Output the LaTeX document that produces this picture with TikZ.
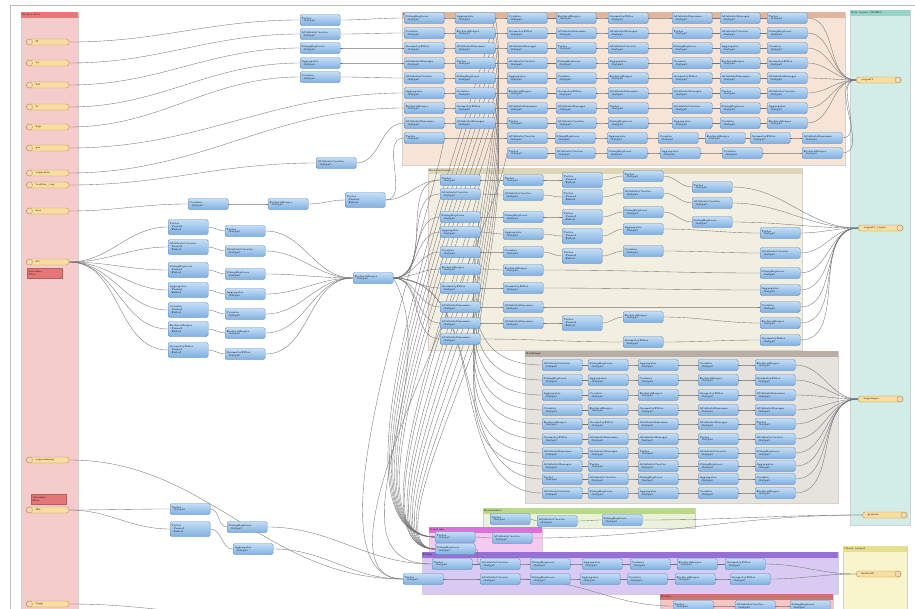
\documentclass[tikz,border=0pt]{standalone}
\usepackage{xcolor}
\usepackage{tikz}
\usetikzlibrary{positioning, backgrounds}
\definecolor{xfFill}{RGB}{196,222,246}
\definecolor{xfTop}{RGB}{128,176,226}
\definecolor{xfLine}{RGB}{90,134,186}
\definecolor{ftFill}{RGB}{248,222,160}
\definecolor{ftLine}{RGB}{190,150,80}
\definecolor{srcBg}{RGB}{244,204,204}
\definecolor{srcHd}{RGB}{232,120,120}
\definecolor{peachBg}{RGB}{246,228,214}
\definecolor{peachHd}{RGB}{224,182,158}
\definecolor{tealBg}{RGB}{210,236,232}
\definecolor{tealHd}{RGB}{150,212,202}
\definecolor{beigeBg}{RGB}{243,239,224}
\definecolor{beigeHd}{RGB}{222,214,184}
\definecolor{greyBg}{RGB}{230,226,222}
\definecolor{greyHd}{RGB}{184,174,166}
\definecolor{greenBg}{RGB}{234,242,218}
\definecolor{greenHd}{RGB}{186,216,140}
\definecolor{magBg}{RGB}{244,202,240}
\definecolor{magHd}{RGB}{222,112,222}
\definecolor{purpBg}{RGB}{216,202,242}
\definecolor{purpHd}{RGB}{150,112,212}
\definecolor{yelBg}{RGB}{248,244,204}
\definecolor{yelHd}{RGB}{230,224,140}
\definecolor{redBg}{RGB}{244,198,198}
\definecolor{redHd}{RGB}{212,112,112}
\definecolor{noteRed}{RGB}{228,118,118}
\tikzstyle{link} = [draw=black!55, line width=0.35pt]
\pgfdeclarelayer{bk}
\pgfdeclarelayer{lk}
\pgfsetlayers{bk,lk,main}

\newcommand{\xflabel}[1]{\ifcase#1 AttributeManager\or Tester\or AttributeCreator\or StringReplacer\or Aggregator\or Counter\or FeatureMerger\or GeometryFilter\else AttributeRenamer\fi}
\newcommand{\xfn}[4]{\node[xf] (#1) at (#2,#3) {\xflabel{#4}\\[-0.3pt]\hspace*{2pt}Output};}
\newcommand{\bmk}[8]{%
  \node[bmark, fill=#6, minimum width=#4, minimum height=#5] (#1) at (#2,#3) {};
  \node[bhead, fill=#7, minimum width=#4] (#1-hd) at (#1.north west) {};
  \node[btitle] (#1-tt) at (#1-hd.west) {#8};}

\begin{document}
\begin{tikzpicture}[x=1pt, y=-1pt,
  xf/.style={draw=xfLine, top color=xfFill, bottom color=xfTop, rounded corners=1.5pt, line width=0.3pt, anchor=west, minimum width=40pt, minimum height=11pt, text width=37pt, inner sep=0.8pt, align=left, font=\fontsize{2.6}{3}\selectfont},
  xft/.style={xf, minimum height=15pt},
  feat/.style={draw=ftLine, fill=ftFill, rounded corners=3pt, line width=0.4pt, anchor=west, minimum width=43pt, minimum height=6pt, text width=38pt, inner sep=0.6pt, align=left, font=\fontsize{2.6}{3}\selectfont},
  wrt/.style={feat, minimum width=45pt},
  note/.style={fill=noteRed, draw=noteRed!80!black, line width=0.3pt, anchor=north west, minimum width=35pt, minimum height=10pt, text width=32pt, inner sep=0.8pt, align=left, font=\fontsize{2.4}{2.8}\selectfont},
  bmark/.style={anchor=north west, inner sep=0pt, draw=black!18, line width=0.3pt},
  bhead/.style={anchor=north west, inner sep=0pt, minimum height=5.5pt},
  btitle/.style={anchor=west, inner sep=1pt, font=\fontsize{2.6}{3}\selectfont}
]
\useasboundingbox (0,0) rectangle (915,608);
\begin{pgfonlayer}{bk}
\fill[white] (0,0) rectangle (915,608);
\draw[black!25, line width=0.8pt] (10,620) -- (10,5) -- (930,5);
% Bookmarks
\bmk{bkSrc}{21}{12}{57}{600}{srcBg}{srcHd}{Source data}
\bmk{bkTop}{402}{12}{443}{153}{peachBg}{peachHd}{Layers}
\bmk{bkOut}{850}{10}{60}{515}{tealBg}{tealHd}{New layers (GPKG)}
\bmk{bkMid}{428}{168}{374}{182}{beigeBg}{beigeHd}{Road network}
\bmk{bkGry}{525}{351}{313}{152}{greyBg}{greyHd}{Buildings}
\bmk{bkGrn}{483}{508}{212}{20}{greenBg}{greenHd}{Boundaries}
\bmk{bkMag}{429}{527}{113}{27}{magBg}{magHd}{Land use}
\bmk{bkPur}{422}{552}{416}{42}{purpBg}{purpHd}{Paths}
\bmk{bkYel}{843}{546}{64}{70}{yelBg}{yelHd}{Check output}
\bmk{bkRed}{660}{594}{173}{25}{redBg}{redHd}{Points}
\end{pgfonlayer}

% Source features
\foreach \y/\t [count=\i] in {42/ff, 63/ny, 85/kvl, 107/lf, 127/hyp, 148/gar, 173/vegsenter, 185/traktor\_veg, 211/bru, 262/sti, 460/avgrensning, 510/fkb, 604/bygg} {
  \node[feat] (in\i) at (26,\y) {\hspace*{7pt}\t};
  \draw[ftLine, fill=ftFill!70!brown!60, line width=0.4pt] ([xshift=3.5pt]in\i.west) circle (3pt);
}
\node[note] (nt1) at (27,268) {Attribute\\ filter};
\node[note] (nt2) at (31,494) {Attribute\\ filter};

% Writers
\node[wrt] (out1) at (856,80) {\hspace*{2pt}vegnett};
\node[wrt] (out2) at (858,228) {\hspace*{2pt}vegnett\_linjer};
\node[wrt] (out3) at (858,399) {\hspace*{2pt}bygninger};
\node[wrt] (out4) at (862,515) {\hspace*{2pt}grenser};
\node[wrt] (out5) at (856,574) {\hspace*{2pt}kontroll};
\foreach \o in {out1,out2,out3,out4,out5}
  {\draw[ftLine, fill=ftFill!70!brown!60, line width=0.4pt] ([xshift=-3.5pt]\o.east) circle (3pt);}

% Left transformers
\foreach \y [count=\i] in {20,34,48,63,77} {\xfn{pre\i}{300}{\y}{\i}}
\xfn{pre6}{316}{163}{2}
\xfn{pre7}{188}{204}{5}
\xfn{pre8}{268}{204}{6}
\node[xft] (pre9) at (345,200) {Tester\\\hspace*{2pt}Passed\\\hspace*{2pt}Failed};
\foreach \y [count=\i] in {227,247,270,290,310,329,350} {
  \node[xft] (fa\i) at (168,\y) {\xflabel{\i}\\\hspace*{2pt}Passed\\\hspace*{2pt}Failed};
  \xfn{fb\i}{225}{\y+4}{\i}
}
\xfn{mrg}{353}{278}{6}

% Layers bookmark
\foreach \x [count=\c] in {404,455,507,556,608,672,720,767} {
  \foreach \r in {1,...,8} {
    \pgfmathtruncatemacro\y{3+15*\r}
    \pgfmathtruncatemacro\k{mod(\c+2*\r,9)}
    \xfn{tp-\c-\r}{\x}{\y}{\k}
  }
}
\foreach \x [count=\c] in {404,507,555,607,658,705,750,802} {\xfn{tq-\c}{\x}{138}{\c}}
\foreach \x [count=\c] in {507,555,607,660,722,802} {\xfn{tr-\c}{\x}{153}{\c}}

% Road network bookmark
\foreach \y [count=\i] in {180,194,217,232,252,269,288,307,323,339} {\xfn{ba\i}{440}{\y}{\i}}
\foreach \y [count=\i] in {180,195,217,234,252,270,288,307,323} {\xfn{bb\i}{503}{\y}{\i}}
\foreach \y [count=\i] in {180,197,217,236,256,323}
  {\node[xft] (bc\i) at (562,\y) {Tester\\\hspace*{2pt}Passed\\\hspace*{2pt}Failed};}
\foreach \y [count=\i] in {176,193,212,229,251,317,342} {\xfn{bd\i}{623}{\y}{\i}}
\foreach \y [count=\i] in {187,203,222} {\xfn{be\i}{692}{\y}{\i}}
\foreach \y [count=\i] in {233,253,273,290,307,323,340} {\xfn{bf\i}{760}{\y}{\i}}

% Buildings bookmark
\foreach \x [count=\c] in {542,588,638,698,755} {
  \foreach \y [count=\r] in {365,380,395,410,424,439,453,466,479,493} {
    \pgfmathtruncatemacro\k{mod(\c+\r,9)}
    \xfn{gy-\c-\r}{\x}{\y}{\k}
  }
}

% Small bookmarks
\foreach \x/\y [count=\i] in {490/519, 537/521, 602/520} {\xfn{gn\i}{\x}{\y}{\i}}
\foreach \x/\y [count=\i] in {435/537, 492/538, 435/549} {\xfn{mg\i}{\x}{\y}{\i}}
\foreach \x [count=\i] in {432,480,530,582,630,677,725} {\xfn{pa\i}{\x}{564}{\i}}
\foreach \x [count=\i] in {403,480,530,580,627,675,730} {\xfn{pb\i}{\x}{579}{\i}}
\foreach \x [count=\i] in {673,735,790} {\xfn{rd\i}{\x}{606}{\i}}
\xfn{bl1}{170}{509}{1}
\node[xft] (bl2) at (170,529) {Tester\\\hspace*{2pt}Passed\\\hspace*{2pt}Failed};
\xfn{bl3}{227}{527}{3}
\xfn{bl4}{233}{549}{4}
\coordinate (offB) at (260,616);

\begin{pgfonlayer}{lk}
% Connectors left
\foreach \i in {1,...,5} {
  \draw[link] (in\i.east) to[out=0,in=180] (pre\i.west);
  \draw[link] (pre\i.east) to[out=0,in=180] (tp-1-\i.west);
}
\draw[link] (in6.east) to[out=0,in=180] (tp-1-6.west);
\draw[link] (in7.east) to[out=0,in=180] (tp-1-7.west);
\draw[link] (in8.east) to[out=0,in=180] (pre6.west);
\draw[link] (pre6.east) to[out=0,in=180] (tp-1-8.west);
\draw[link] (in9.east) to[out=0,in=180] (pre7.west);
\draw[link] (pre7.east) to[out=0,in=180] (pre8.west);
\draw[link] (pre8.east) to[out=0,in=180] (pre9.west);
\draw[link] (pre9.east) to[out=0,in=180] (tq-1.west);
\draw[link] (pre9.east) to[out=0,in=180] (ba1.west);
\foreach \i in {1,...,7} {
  \draw[link] (in10.east) to[out=0,in=180] (fa\i.west);
  \draw[link] (fa\i.east) to[out=0,in=180] (fb\i.west);
  \draw[link] (fb\i.east) to[out=0,in=180] (mrg.west);
}
\foreach \i in {1,...,10} {\draw[link] (mrg.east) to[out=0,in=180] (ba\i.west);}
\draw[link] (mrg.east) to[out=0,in=180] (gy-1-9.west);
\draw[link] (mrg.east) to[out=0,in=180] (gy-1-10.west);
\draw[link] (mrg.east) to[out=-60,in=180] (pa1.west);

% Layers bookmark
\foreach \c [count=\d from 2] in {1,...,7} {
  \foreach \r in {1,...,8}
    {\draw[link] (tp-\c-\r.east) to[out=0,in=180] (tp-\d-\r.west);}
}
\foreach \c [count=\d from 2] in {1,...,7} {\draw[link] (tq-\c.east) to[out=0,in=180] (tq-\d.west);}
\foreach \c [count=\d from 2] in {1,...,5} {\draw[link] (tr-\c.east) to[out=0,in=180] (tr-\d.west);}
\foreach \r in {1,...,8} {\draw[link] (tp-8-\r.east) to[out=0,in=180] (out1.west);}
\draw[link] (tq-8.east) to[out=0,in=180] (out1.west);
\draw[link] (tr-6.east) to[out=0,in=180] (out1.west);

% Long bundles
\foreach \r in {1,...,8} {
  \draw[link] (tp-2-\r.east) to[out=-80,in=180] (gy-1-\r.west);
  \draw[link] (tp-2-\r.east) to[out=-105,in=180,looseness=0.6] (mg1.west);
}
\foreach \i in {1,...,9} {\draw[link] (ba\i.east) to[out=-100,in=180,looseness=0.6] (mg3.west);}
\draw[link] (tq-1.east) to[out=-100,in=180,looseness=0.6] (pb1.west);
\draw[link] (tr-1.west) to[out=-100,in=180,looseness=0.6] (pb1.west);

% Road network bookmark
\foreach \i in {1,...,9} {\draw[link] (ba\i.east) to[out=0,in=180] (bb\i.west);}
\foreach \i in {1,...,5} {
  \draw[link] (bb\i.east) to[out=0,in=180] (bc\i.west);
  \draw[link] (bc\i.east) to[out=0,in=180] (bd\i.west);
}
\draw[link] (bb9.east) to[out=0,in=180] (bc6.west);
\draw[link] (bc6.east) to[out=0,in=180] (bd6.west);
\foreach \i in {1,2,3} {
  \draw[link] (bd\i.east) to[out=0,in=180] (be\i.west);
  \draw[link] (be\i.east) to[out=0,in=180] (out2.west);
}
\draw[link] (bd4.east) to[out=0,in=180] (bf1.west);
\draw[link] (bd5.east) to[out=0,in=180] (bf2.west);
\draw[link] (bb6.east) to[out=0,in=180] (bf3.west);
\draw[link] (bb7.east) to[out=0,in=180] (bf4.west);
\draw[link] (bb8.east) to[out=0,in=180] (bf5.west);
\draw[link] (bd6.east) to[out=0,in=180] (bf6.west);
\draw[link] (bd7.east) to[out=0,in=180] (bf7.west);
\draw[link] (ba10.east) to[out=0,in=180] (bd7.west);
\foreach \i in {1,...,7} {\draw[link] (bf\i.east) to[out=0,in=180] (out2.west);}

% Buildings bookmark
\foreach \c [count=\d from 2] in {1,...,4} {
  \foreach \r in {1,...,10}
    {\draw[link] (gy-\c-\r.east) to[out=0,in=180] (gy-\d-\r.west);}
}
\foreach \r in {1,...,10} {\draw[link] (gy-5-\r.east) to[out=0,in=180] (out3.west);}

% Bottom bookmarks
\draw[link] (gn1.east) to[out=0,in=180] (gn2.west);
\draw[link] (gn2.east) to[out=0,in=180] (gn3.west);
\draw[link] (gn3.east) to[out=0,in=180] (out4.west);
\draw[link] (mg1.east) to[out=0,in=180] (mg2.west);
\draw[link] (mg2.east) to[out=0,in=180] (out4.west);
\draw[link] (mg3.east) to[out=0,in=180] (pa2.west);
\foreach \i [count=\j from 2] in {1,...,6} {
  \draw[link] (pa\i.east) to[out=0,in=180] (pa\j.west);
  \draw[link] (pb\i.east) to[out=0,in=180] (pb\j.west);
}
\draw[link] (pa7.east) to[out=0,in=180] (out5.west);
\draw[link] (pb7.east) to[out=0,in=180] (out5.west);
\draw[link] (pb2.east) to[out=0,in=180] (rd1.west);
\draw[link] (rd1.east) to[out=0,in=180] (rd2.west);
\draw[link] (rd2.east) to[out=0,in=180] (rd3.west);

% Bottom left
\draw[link] (in11.east) to[out=0,in=180] (pb1.west);
\draw[link] (in12.east) to[out=0,in=180] (bl1.west);
\draw[link] (in12.east) to[out=0,in=180] (bl2.west);
\draw[link] (bl1.east) to[out=0,in=180] (bl3.west);
\draw[link] (bl2.east) to[out=0,in=180] (bl4.west);
\draw[link] (bl3.east) to[out=0,in=180] (pa1.west);
\draw[link] (bl4.east) to[out=0,in=180] (pb1.west);
\draw[link] (in13.east) to[out=0,in=180] (offB);
\end{pgfonlayer}
\end{tikzpicture}
\end{document}
